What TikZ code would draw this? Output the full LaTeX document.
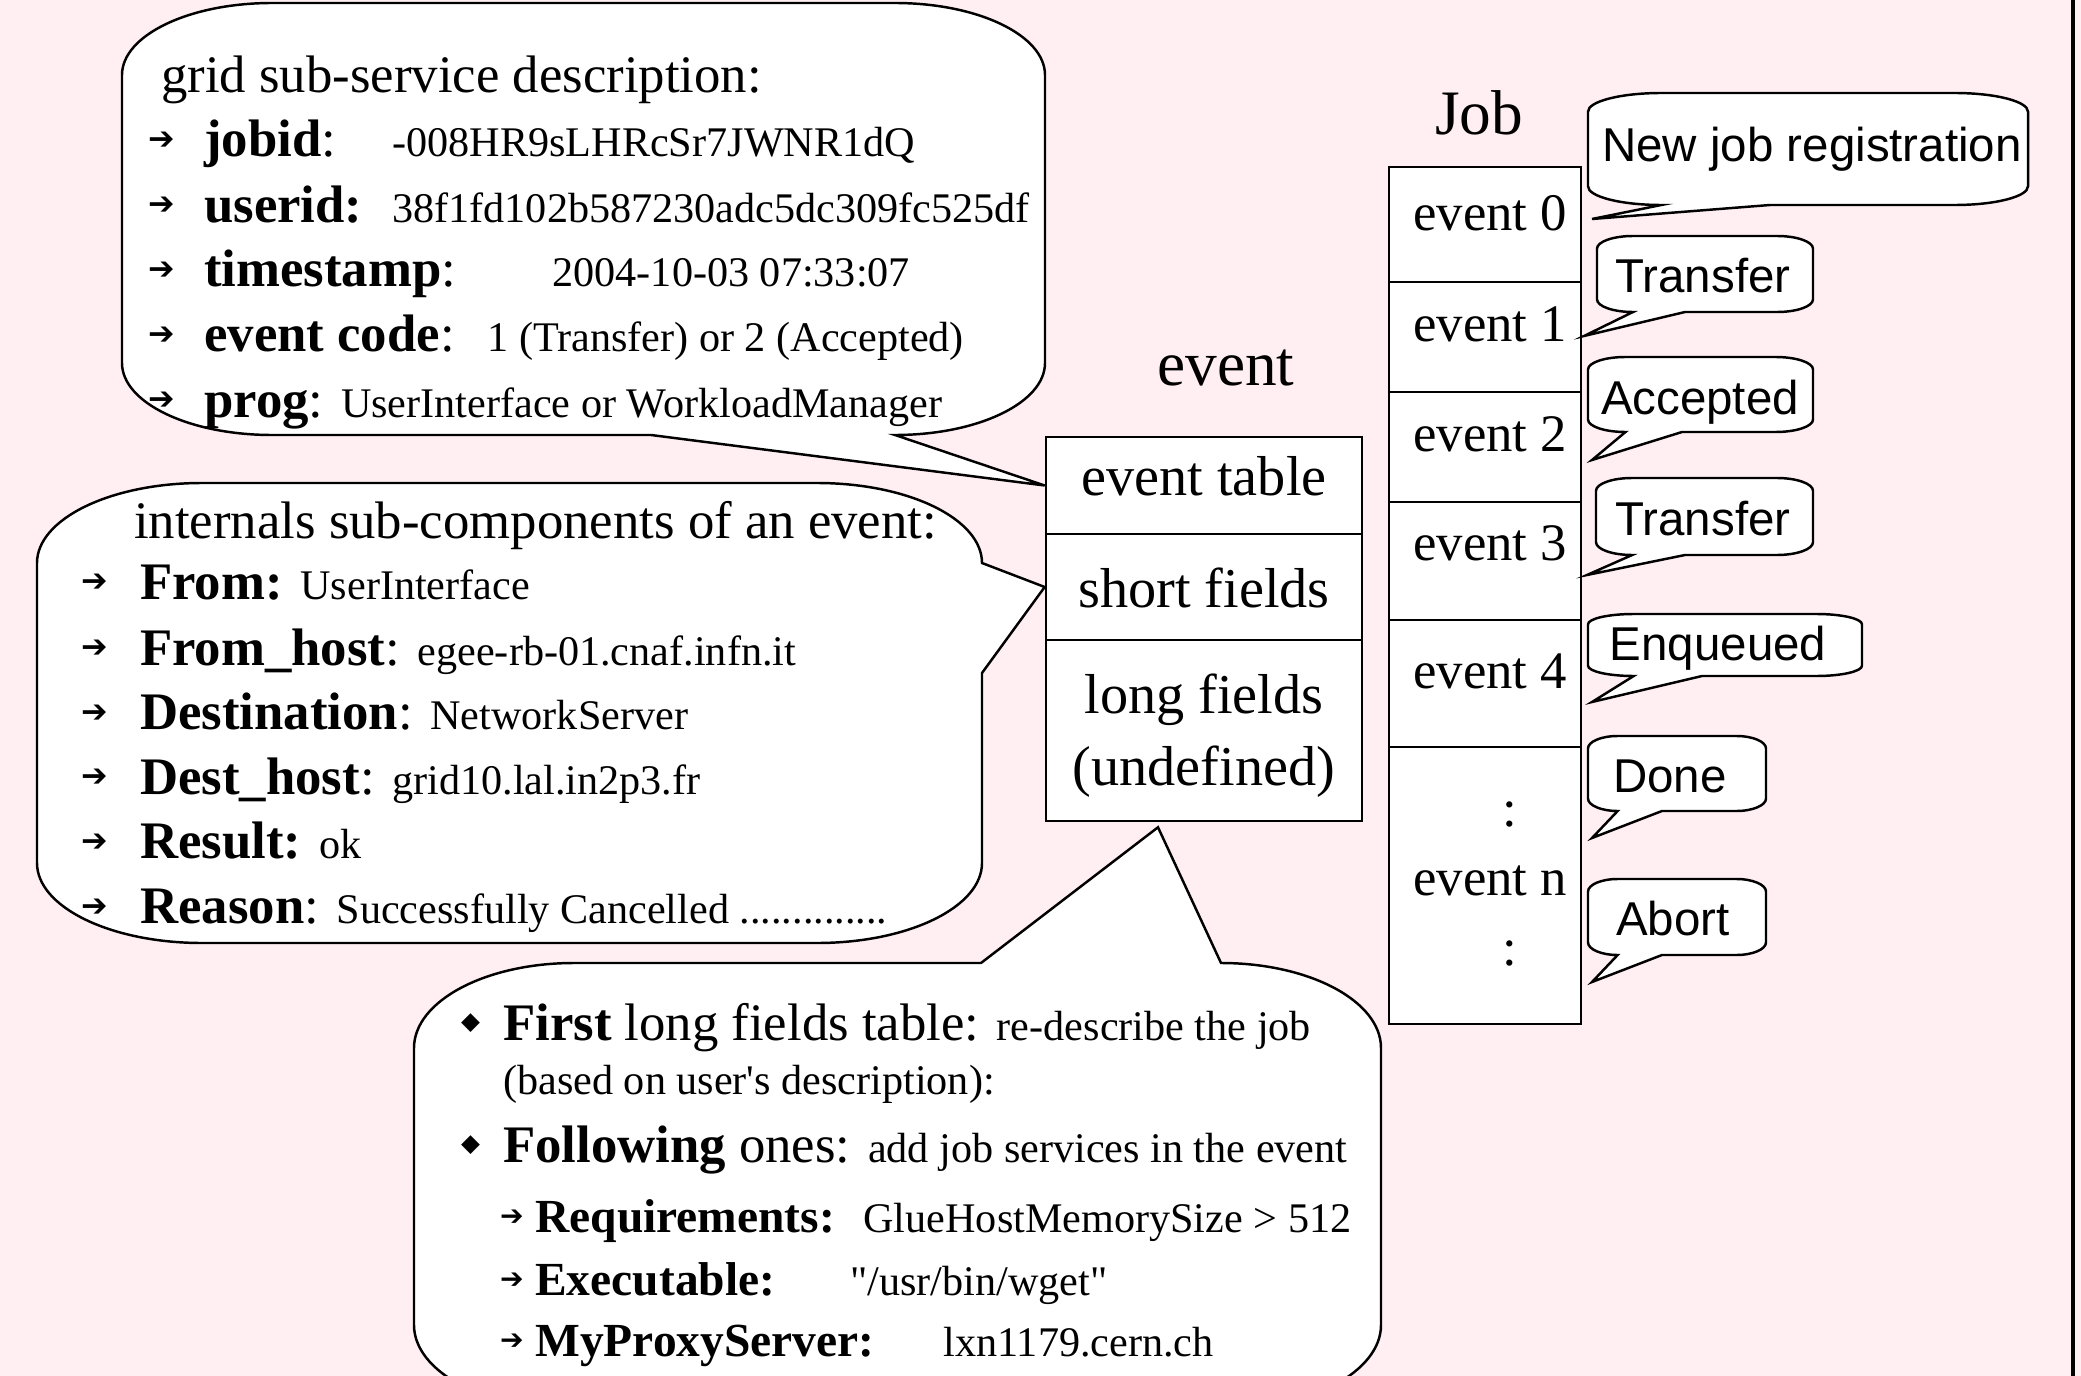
\documentclass[tikz,border=0pt]{standalone}
\usepackage{fontspec}
\setmainfont{Liberation Serif}
\newfontfamily\calloutfont{Liberation Sans}
\newfontfamily\symfont{DejaVu Sans}
\definecolor{slide-pink}{RGB}{255,238,242}
\newcommand{\fieldval}[1]{{\fontsize{12}{14}\selectfont #1}}
\newcommand{\bularrow}[2][9]{\makebox[#2][l]{\raisebox{0.07cm}{\symfont\fontsize{#1}{#1}\selectfont ➔}}}
\newcommand{\bulldiamond}{\makebox[0.42cm][l]{\raisebox{0.1cm}{\symfont\fontsize{7}{7}\selectfont ◆}}}
\newcommand{\tagbubble}[6]{%
  \draw[bubble] (#1,{#4-(#4-#2)/6}) -- (#1,{#2+(#4-#2)/6})
    arc[start angle=180, end angle=270, x radius={(#3-#1)/6}, y radius={(#4-#2)/6}]
    -- ({#3-(#3-#1)/6},#2)
    arc[start angle=270, end angle=360, x radius={(#3-#1)/6}, y radius={(#4-#2)/6}]
    -- (#3,{#4-(#4-#2)/6})
    arc[start angle=0, end angle=90, x radius={(#3-#1)/6}, y radius={(#4-#2)/6}]
    -- (#5,#4) -- (#6) -- ({#1+(#3-#1)/6},#4)
    arc[start angle=90, end angle=180, x radius={(#3-#1)/6}, y radius={(#4-#2)/6}]
    -- cycle;}

\begin{document}
\begin{tikzpicture}[x=0.01cm, y=-0.01cm, line width=0.7pt,
    bubble/.style={draw, fill=white},
    cell/.style={draw, fill=white, inner sep=0pt},
    txt/.style={anchor=base west, inner sep=0pt, font=\fontsize{15}{18}\selectfont},
    subtxt/.style={txt, font=\fontsize{13.5}{16}\selectfont},
    head/.style={anchor=base, inner sep=0pt, font=\fontsize{18}{21}\selectfont},
    celltxt/.style={anchor=base, inner sep=0pt, font=\fontsize{16}{19}\selectfont},
    evtxt/.style={anchor=base west, inner sep=0pt, font=\fontsize{15}{18}\selectfont},
    tag/.style={anchor=base, inner sep=0pt, font=\calloutfont\fontsize{13.5}{16}\selectfont}]
  \useasboundingbox (0,0) rectangle (2081,1376);
  \fill[slide-pink] (0,0) rectangle (2081,1376);
  \draw[line width=1.2pt] (2073,0) -- (2073,1376);

  \node[cell, minimum width=3.16cm, minimum height=0.97cm] (evtable) at (1204,485.5) {};
  \node[cell, minimum width=3.16cm, minimum height=1.06cm] (short) at (1204,587) {};
  \node[cell, minimum width=3.16cm, minimum height=1.81cm] (long) at (1204,730.5) {};
  \node[celltxt] (evtabletxt) at (1204,495) {event table};
  \node[celltxt] (shorttxt) at (1204,607) {short fields};
  \node[celltxt] (longtxt) at (1204,713) {long fields};
  \node[celltxt] (undeftxt) at (1204,785) {(undefined)};
  \node[head] (eventhead) at (1226,385) {event};

  \node[cell, minimum width=1.92cm, minimum height=1.15cm] (ev0) at (1485,224.5) {};
  \node[cell, minimum width=1.92cm, minimum height=1.10cm] (ev1) at (1485,337) {};
  \node[cell, minimum width=1.92cm, minimum height=1.10cm] (ev2) at (1485,447) {};
  \node[cell, minimum width=1.92cm, minimum height=1.18cm] (ev3) at (1485,561) {};
  \node[cell, minimum width=1.92cm, minimum height=1.27cm] (ev4) at (1485,683.5) {};
  \node[cell, minimum width=1.92cm, minimum height=2.77cm] (evn) at (1485,885.5) {};
  \node[evtxt] (ev0txt) at (1412,231) {event 0};
  \node[evtxt] (ev1txt) at (1412,341) {event 1};
  \node[evtxt] (ev2txt) at (1412,452) {event 2};
  \node[evtxt] (ev3txt) at (1412,560) {event 3};
  \node[evtxt] (ev4txt) at (1412,688) {event 4};
  \node[evtxt] (evntxt) at (1412,895) {event n};
  \node[celltxt, font=\fontsize{15}{18}\selectfont] (dotsa) at (1510,826) {:};
  \node[celltxt, font=\fontsize{15}{18}\selectfont] (dotsb) at (1510,965) {:};
  \node[head] (jobhead) at (1479,135) {Job};

  \tagbubble{1588}{93}{2028}{205}{1770}{1592,219}
  \node[tag] (reg) at (1812,162) {New job registration};
  \tagbubble{1597}{236}{1813}{312}{1685}{1584,336}
  \node[tag] (transa) at (1703,292) {Transfer};
  \tagbubble{1588}{357}{1813}{432}{1682}{1592,460}
  \node[tag] (acc) at (1700,415) {Accepted};
  \tagbubble{1596}{478}{1813}{555}{1685}{1587,575}
  \node[tag] (transb) at (1703,535) {Transfer};
  \tagbubble{1588}{614}{1862}{676}{1702}{1592,702}
  \node[tag] (enq) at (1718,660) {Enqueued};
  \tagbubble{1588}{736}{1766}{811}{1662}{1592,838}
  \node[tag] (done) at (1670,792) {Done};
  \tagbubble{1588}{879}{1766}{955}{1662}{1592,982}
  \node[tag] (abort) at (1673,935) {Abort};

  \draw[bubble] (122,363) -- (122,75)
    arc[start angle=180, end angle=270, x radius=150, y radius=72] -- (895,3)
    arc[start angle=270, end angle=360, x radius=150, y radius=72] -- (1045,363)
    arc[start angle=0, end angle=90, x radius=150, y radius=72]
    -- (evtable.west) -- (651,435) -- (272,435)
    arc[start angle=90, end angle=180, x radius=150, y radius=72] -- cycle;
  \node[txt] (grid) at (160,93) {grid sub-service description:};
  \node[txt] (jobid) at (147,157) {\bularrow{0.56cm}\makebox[1.88cm][l]{\textbf{jobid}:}\fieldval{-008HR9sLHRcSr7JWNR1dQ}};
  \node[txt] (userid) at (147,222) {\bularrow{0.56cm}\makebox[1.88cm][l]{\textbf{userid:}}\fieldval{38f1fd102b587230adc5dc309fc525df}};
  \node[txt] (stamp) at (147,287) {\bularrow{0.56cm}\makebox[3.48cm][l]{\textbf{timestamp}:}\fieldval{2004-10-03 07:33:07}};
  \node[txt] (code) at (147,352) {\bularrow{0.56cm}\makebox[2.83cm][l]{\textbf{event code}:}\fieldval{1 (Transfer) or 2 (Accepted)}};
  \node[txt] (prog) at (147,417) {\bularrow{0.56cm}\textbf{prog}: \fieldval{UserInterface or WorkloadManager}};

  \draw[bubble] (37,863) -- (37,563)
    arc[start angle=180, end angle=270, x radius=165, y radius=80] -- (817,483)
    arc[start angle=270, end angle=360, x radius=165, y radius=80]
    -- (short.west) -- (982,673) -- (982,863)
    arc[start angle=0, end angle=90, x radius=165, y radius=80] -- (202,943)
    arc[start angle=90, end angle=180, x radius=165, y radius=80] -- cycle;
  \node[txt] (internals) at (133,538) {internals sub-components of an event:};
  \node[txt] (from) at (80,599) {\bularrow{0.59cm}\textbf{From:} \fieldval{UserInterface}};
  \node[txt] (fromhost) at (80,665) {\bularrow{0.59cm}\textbf{From\_host}: \fieldval{egee-rb-01.cnaf.infn.it}};
  \node[txt] (dest) at (80,729) {\bularrow{0.59cm}\textbf{Destination}: \fieldval{NetworkServer}};
  \node[txt] (desthost) at (80,794) {\bularrow{0.59cm}\textbf{Dest\_host}: \fieldval{grid10.lal.in2p3.fr}};
  \node[txt] (result) at (80,858) {\bularrow{0.59cm}\textbf{Result:} \fieldval{ok}};
  \node[txt] (reason) at (80,923) {\bularrow{0.59cm}\textbf{Reason}: \fieldval{Successfully Cancelled ..............}};

  \draw[bubble] (414,1325) -- (414,1048)
    arc[start angle=180, end angle=270, x radius=160, y radius=85] -- (981,963)
    -- ([shift={(-46,5)}]long.south) -- (1221,963)
    arc[start angle=270, end angle=360, x radius=160, y radius=85] -- (1381,1325)
    arc[start angle=0, end angle=90, x radius=160, y radius=85] -- (574,1410)
    arc[start angle=90, end angle=180, x radius=160, y radius=85] -- cycle;
  \node[txt] (first) at (460,1040) {\bulldiamond\textbf{First} long fields table: \fieldval{re-describe the job}};
  \node[txt] (based) at (502,1094) {\fieldval{(based on user\textquotesingle s description):}};
  \node[txt] (following) at (460,1162) {\bulldiamond\textbf{Following} ones: \fieldval{add job services in the event}};
  \node[subtxt] (req) at (499,1232) {\bularrow[8]{0.35cm}\makebox[3.28cm][l]{\textbf{Requirements:}}\fieldval{GlueHostMemorySize > 512}};
  \node[subtxt] (exe) at (499,1295) {\bularrow[8]{0.35cm}\makebox[3.15cm][l]{\textbf{Executable:}}\fieldval{\textquotedbl/usr/bin/wget\textquotedbl}};
  \node[subtxt] (proxy) at (499,1356) {\bularrow[8]{0.35cm}\makebox[4.08cm][l]{\textbf{MyProxyServer:}}\fieldval{lxn1179.cern.ch}};
\end{tikzpicture}
\end{document}
